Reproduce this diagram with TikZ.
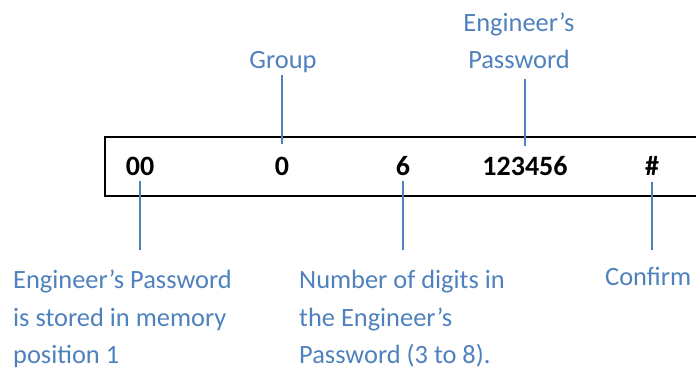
\documentclass[tikz,border=0pt]{standalone}
\usepackage{fontspec}
\setmainfont{Carlito}
\usepackage{tikz}
\usetikzlibrary{calc,positioning}
\definecolor{officeblue}{RGB}{79,129,189}
\tikzset{
digit/.style={
  inner sep=0pt,
  anchor=base,
  font=\fontsize{28}{34}\selectfont\bfseries},
label/.style={
  inner sep=0pt,
  text=officeblue,
  align=left,
  font=\fontsize{26.4}{37.5}\selectfont},
line/.style={draw, officeblue, line width=1.5pt},
frame/.style={draw, line width=1.4pt}
}
\begin{document}
\begin{tikzpicture}[x=1pt,y=-1pt]
    \useasboundingbox (0,0) rectangle (696,369);
    \draw[frame] (105,137) rectangle (720,196);
    \node [digit] (mem) at (140,175) {00};
    \node [digit] (grp) at (282,175) {0};
    \node [digit] (len) at (403,175) {6};
    \node [digit] (pwd) at (525,175) {123456};
    \node [digit] (hash) at (652,175) {\#};
    \node [label, anchor=base] (grpl) at (283,68) {Group};
    \node [label, anchor=south, align=center] (pwdl) at (519,69) {Engineer’s\\Password};
    \node [label, anchor=north west] (meml) at (13,270) {Engineer’s Password\\is stored in memory\\position 1};
    \node [label, anchor=north west] (lenl) at (299,270) {Number of digits in\\the Engineer’s\\Password (3 to 8).};
    \node [label, anchor=north west] (hashl) at (605,267) {Confirm};
    \path [line] (grp.north |- grpl.south) ++(0,3) -- ($(grp.north)+(0,-12)$);
    \path [line] (pwd.north |- pwdl.south) ++(0,10) -- ($(pwd.north)+(0,-10)$);
    \path [line] ($(mem.south)+(0,6)$) -- ($(mem.south |- meml.north)+(0,-20)$);
    \path [line] ($(len.south)+(0,6)$) -- ($(len.south |- lenl.north)+(0,-20)$);
    \path [line] ($(hash.south)+(0,7)$) -- ($(hash.south |- hashl.north)+(0,-17)$);
\end{tikzpicture}
\end{document}
